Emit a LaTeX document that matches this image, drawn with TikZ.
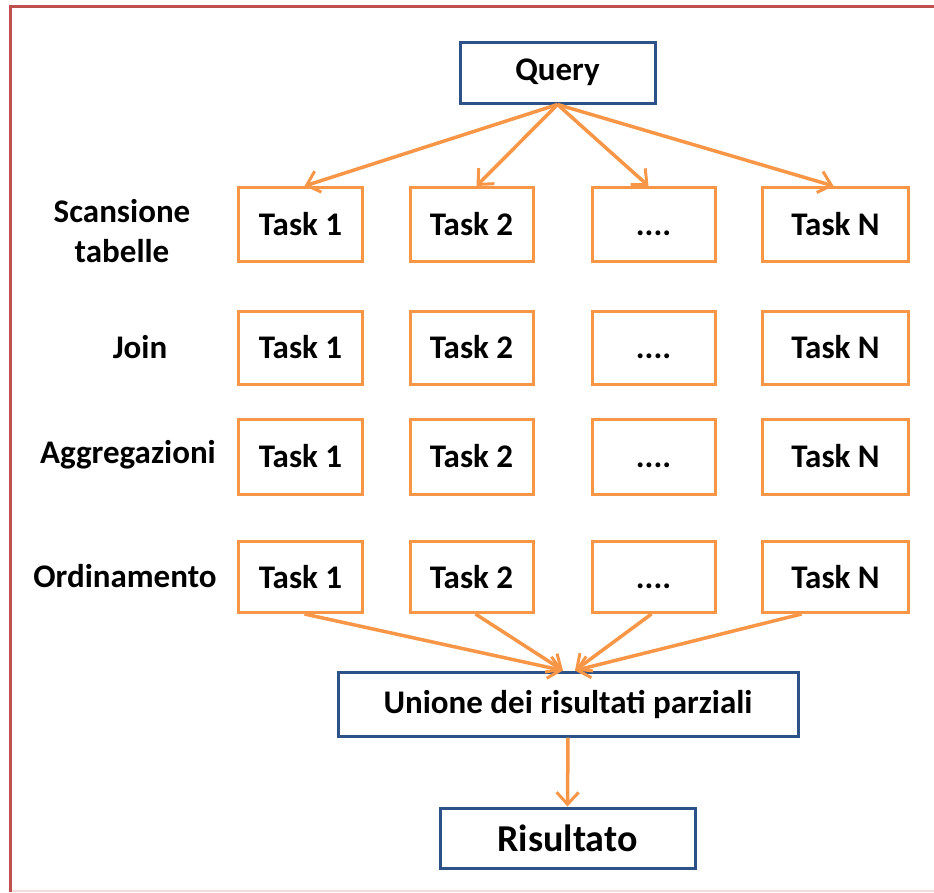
\documentclass[tikz,border=0pt]{standalone}
\usepackage{fontspec}
\setmainfont{Carlito}
\usetikzlibrary{arrows.meta}
\definecolor{orng}{HTML}{F79646}
\definecolor{bluebd}{HTML}{2C5287}
\definecolor{redfr}{HTML}{C0504D}
\definecolor{pinkfr}{HTML}{F2DCDB}
\tikzset{
  taskbox/.style={draw=orng, line width=3pt, fill=white, inner sep=0pt, font=\fontsize{33}{38}\selectfont\bfseries},
  bluebox/.style={draw=bluebd, line width=3pt, fill=white, inner sep=0pt, font=\fontsize{33}{38}\selectfont\bfseries},
  rowlabel/.style={align=center, inner sep=0pt, font=\fontsize{33}{40}\selectfont\bfseries},
  conn/.style={draw=orng, line width=3.5pt, -{Straight Barb[length=12pt,width=22pt,line width=3pt]}}
}
\begin{document}
\begin{tikzpicture}[x=1pt,y=-1pt]
\useasboundingbox (0,0) rectangle (934,892);
% frame
\draw[pinkfr, line width=2pt] (10,891) -- (934,891);
\draw[redfr, line width=3pt] (934,6) -- (10,6) -- (10,892);

% top
\node[bluebox, minimum width=195pt, minimum height=61pt] (q) at (557.5,72.5) {Query};

% row labels
\node[rowlabel] (l1) at (122,231) {Scansione\\tabelle};
\node[rowlabel] (l2) at (140,347) {Join};
\node[rowlabel] (l3) at (128,455) {Aggregazioni};
\node[rowlabel] (l4) at (125,576) {Ordinamento};

% task grid
\foreach \r/\y/\h in {1/224.5/74, 2/347.5/73, 3/456.5/75, 4/577/71} {
  \node[taskbox, minimum width=124pt, minimum height=\h pt] (t\r1) at (300.5,\y) {Task 1};
  \node[taskbox, minimum width=123pt, minimum height=\h pt] (t\r2) at (471.5,\y) {Task 2};
  \node[taskbox, minimum width=123pt, minimum height=\h pt] (t\r3) at (653.5,\y) {\vphantom{Task}....};
  \node[taskbox, minimum width=146pt, minimum height=\h pt] (t\r4) at (835.5,\y) {Task N};
}

% bottom
\node[bluebox, minimum width=460pt, minimum height=64pt] (u) at (568,704) {Unione dei risultati parziali};
\node[bluebox, minimum width=255pt, minimum height=60pt, font=\fontsize{38}{42}\selectfont\bfseries] (res) at (567.5,838) {Risultato};

% arrows from query
\draw[conn] (q.south) -- ([xshift=4pt]t11.north);
\draw[conn] (q.south) -- ([xshift=5pt]t12.north);
\draw[conn] (q.south) -- ([xshift=-5pt]t13.north);
\draw[conn] (q.south) -- ([xshift=-2pt]t14.north);

% arrows to union
\draw[conn] ([xshift=4pt]t41.south) -- ([xshift=-5pt]u.north);
\draw[conn] ([xshift=4pt]t42.south) -- ([xshift=-5pt]u.north);
\draw[conn] ([xshift=-2pt]t43.south) -- ([xshift=7pt]u.north);
\draw[conn] ([xshift=-34pt]t44.south) -- ([xshift=7pt]u.north);

% union to result
\draw[conn] (u.south) -- (res.north);
\end{tikzpicture}
\end{document}
